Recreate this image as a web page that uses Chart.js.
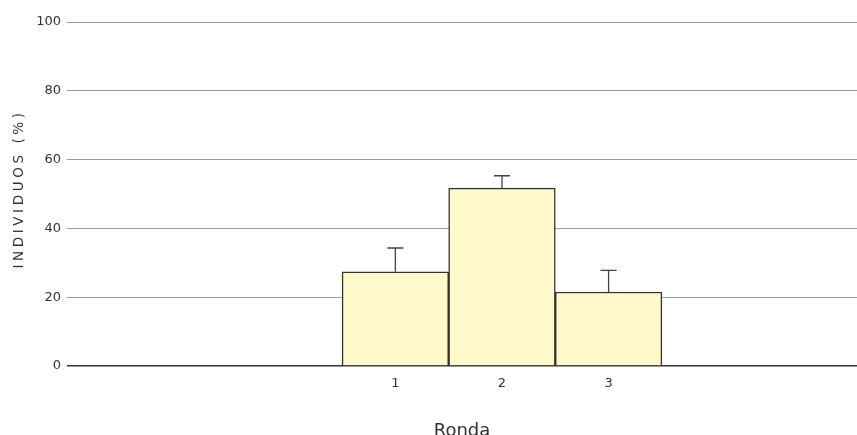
<!DOCTYPE html>
<html>
<head>
<meta charset="utf-8">
<script src="https://cdn.jsdelivr.net/npm/chart.js@4"></script>
<style>
  html, body { margin: 0; padding: 0; background: #fff; }
  #wrap { width: 857px; height: 435px; }
</style>
</head>
<body>
<div id="wrap"><canvas id="chart"></canvas></div>
<script>
/* Ronda vs individuos (%) - bar chart with error bars */

const rondas = [1, 2, 3];
const individuos = [27.4, 51.7, 21.5];
const errorTop = [34.3, 55.3, 27.8];
const yTicks = [0, 20, 40, 60, 80, 100];

const fontFamily = "'DejaVu Sans', Verdana, sans-serif";

// draw the upper whiskers from the data through the scales
const errorBars = {
    id: 'errorBars',
    afterDatasetsDraw(chart) {
        const ctx = chart.ctx;
        const x = chart.scales.x;
        const y = chart.scales.y;
        ctx.save();
        ctx.strokeStyle = '#4a4040';
        ctx.lineWidth = 1.3;
        rondas.forEach((r, i) => {
            const px = x.getPixelForValue(r);
            const top = y.getPixelForValue(errorTop[i]);
            const base = y.getPixelForValue(individuos[i]);
            ctx.beginPath();
            ctx.moveTo(px, base);
            ctx.lineTo(px, top);
            ctx.moveTo(px - 8, top);
            ctx.lineTo(px + 8, top);
            ctx.stroke();
        });
        ctx.restore();
    }
};

// y title with letter spacing (Chart.js has no option for it)
const yTitle = {
    id: 'yTitle',
    afterDraw(chart) {
        const ctx = chart.ctx;
        const area = chart.chartArea;
        ctx.save();
        ctx.translate(19, (area.top + area.bottom) / 2 - 5);
        ctx.rotate(-Math.PI / 2);
        ctx.font = '13.5px ' + fontFamily;
        ctx.letterSpacing = '3.6px';
        ctx.fillStyle = '#333';
        ctx.textAlign = 'center';
        ctx.textBaseline = 'middle';
        ctx.fillText('INDIVIDUOS (%)', 0, 0);
        ctx.restore();
    }
};

new Chart(document.getElementById('chart'), {
    type: 'bar',
    data: {
        datasets: [{
            data: rondas.map((r, i) => ({ x: r, y: individuos[i] })),
            backgroundColor: '#fff9cc',
            borderColor: '#333',
            borderWidth: 1.5,
            barPercentage: 1,
            categoryPercentage: 1,
        }]
    },
    options: {
        responsive: true,
        maintainAspectRatio: false,
        animation: false,
        layout: { padding: { top: 22, left: 0, right: 0, bottom: 0 } },
        plugins: { legend: { display: false }, tooltip: { enabled: false } },
        scales: {
            x: {
                type: 'linear',
                offset: false,
                min: -2.08,
                max: 5.33,
                afterBuildTicks: s => { s.ticks = rondas.map(v => ({ value: v })); },
                afterFit: s => { s.height = 69; },
                grid: { display: false, drawTicks: false },
                border: { display: false },
                ticks: { color: '#333', padding: 10, font: { family: fontFamily, size: 13 } },
                title: {
                    display: true,
                    text: 'Ronda',
                    color: '#333',
                    font: { family: fontFamily, size: 18, lineHeight: 1 },
                    padding: { top: 0, bottom: -5 }
                }
            },
            y: {
                min: 0,
                max: 100,
                afterBuildTicks: s => { s.ticks = yTicks.map(v => ({ value: v })); },
                afterFit: s => { s.width = 67; },
                grid: {
                    drawTicks: false,
                    color: ctx => ctx.tick && ctx.tick.value === 0 ? '#333' : '#9a9a9a',
                    lineWidth: ctx => ctx.tick && ctx.tick.value === 0 ? 1.5 : 1
                },
                border: { display: false },
                ticks: { color: '#333', padding: 6, font: { family: fontFamily, size: 13 } }
            }
        }
    },
    plugins: [errorBars, yTitle]
});
</script>
</body>
</html>
